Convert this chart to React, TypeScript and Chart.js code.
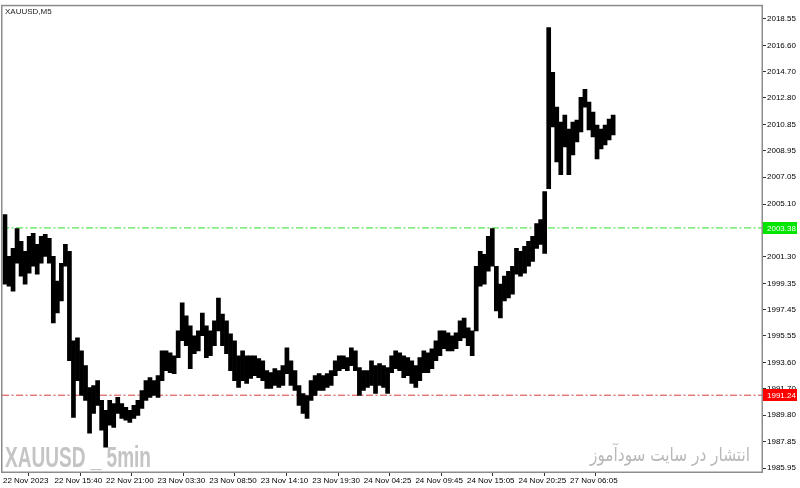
import React, { useEffect, useRef } from 'react';
import { Chart, registerables } from 'chart.js';

Chart.register(...registerables);

const symbolTitle = 'XAUUSD,M5';
const watermarkLeft = 'XAUUSD _ 5min';
const watermarkRight = 'انتشار در سایت سودآموز';

// each column = 5 five-minute bars
const barsPerColumn = 5;

const highs = [
  2004.34, 2001.31, 2001.89, 2003.33, 2002.40, 2001.67, 2002.76, 2002.97, 2002.18, 2002.76,
  2002.90, 2002.61, 2001.31, 1999.51, 2000.81, 2002.18, 2001.67, 1995.19, 1995.40, 1994.46,
  1993.38, 1991.80, 1991.94, 1992.30, 1990.86, 1990.14, 1990.86, 1990.64, 1991.08, 1990.64,
  1990.36, 1990.14, 1990.50, 1990.86, 1991.58, 1992.30, 1992.52, 1992.30, 1992.66, 1994.46,
  1994.46, 1994.32, 1994.10, 1995.91, 1997.93, 1996.99, 1996.27, 1995.55, 1995.91, 1997.20,
  1996.27, 1995.91, 1996.63, 1998.29, 1997.13, 1996.63, 1995.69, 1995.19, 1994.10, 1994.46,
  1994.10, 1994.10, 1994.10, 1993.89, 1993.74, 1993.02, 1992.88, 1993.17, 1993.02, 1993.38,
  1994.68, 1993.74, 1993.02, 1991.94, 1991.36, 1991.22, 1992.30, 1992.66, 1992.81, 1992.66,
  1992.81, 1993.02, 1993.74, 1994.10, 1994.10, 1993.96, 1994.68, 1994.46, 1993.24, 1993.02,
  1993.02, 1993.74, 1993.38, 1993.53, 1993.38, 1993.24, 1994.10, 1994.46, 1994.32, 1994.10,
  1993.96, 1993.74, 1993.38, 1993.96, 1994.46, 1994.32, 1994.61, 1995.19, 1995.91, 1995.91,
  1995.76, 1995.55, 1995.76, 1996.63, 1996.84, 1996.12, 1995.91, 2000.59, 2001.67, 2001.46,
  2002.76, 2003.33, 2000.59, 1999.30, 1999.87, 2000.23, 2000.59, 2001.89, 2001.67, 2002.04,
  2002.40, 2002.76, 2003.69, 2003.98, 2006.00, 2017.90, 2014.65, 2012.13, 2011.05, 2011.55,
  2010.54, 2011.05, 2011.19, 2012.85, 2013.43, 2012.49, 2011.77, 2010.83, 2010.54, 2010.83,
  2011.26, 2011.55,
];

const lows = [
  1999.30, 1999.15, 1998.79, 2000.81, 1999.87, 1999.30, 2000.09, 2000.59, 2000.02, 2000.81,
  2001.31, 2000.81, 1996.48, 1997.20, 1998.07, 2000.59, 1993.74, 1989.63, 1992.30, 1991.22,
  1990.86, 1988.48, 1989.92, 1990.50, 1988.70, 1987.47, 1989.06, 1988.91, 1989.92, 1989.56,
  1989.42, 1989.27, 1989.56, 1989.78, 1990.28, 1990.86, 1991.08, 1991.22, 1991.08, 1992.30,
  1993.02, 1992.88, 1992.81, 1993.96, 1995.19, 1994.83, 1993.17, 1994.25, 1994.46, 1995.55,
  1993.96, 1994.10, 1994.83, 1995.91, 1994.83, 1994.25, 1993.02, 1992.30, 1991.80, 1992.30,
  1992.09, 1992.45, 1992.66, 1992.52, 1992.30, 1991.73, 1991.73, 1991.94, 1991.80, 1991.94,
  1992.81, 1991.94, 1991.58, 1990.50, 1989.92, 1989.56, 1990.86, 1991.22, 1991.58, 1991.58,
  1991.80, 1991.94, 1992.66, 1993.02, 1993.17, 1993.02, 1993.38, 1993.02, 1991.22, 1991.58,
  1991.80, 1991.94, 1991.36, 1991.94, 1991.80, 1991.36, 1992.88, 1993.17, 1993.02, 1992.52,
  1992.66, 1992.09, 1991.80, 1992.30, 1992.88, 1992.88, 1993.17, 1993.74, 1994.10, 1994.61,
  1994.46, 1994.46, 1994.61, 1995.19, 1995.40, 1994.83, 1994.10, 1995.91, 1999.15, 1999.30,
  2000.23, 2000.59, 1997.35, 1996.84, 1998.07, 1998.29, 1998.57, 2000.02, 1999.87, 2000.09,
  2000.59, 2000.95, 2001.89, 2002.18, 2001.53, 2006.22, 2010.69, 2008.16, 2007.23, 2009.25,
  2007.23, 2008.67, 2009.61, 2010.33, 2012.13, 2010.47, 2009.97, 2008.38, 2009.10, 2009.39,
  2009.75, 2010.11,
];

// time axis labels, one every 64 five-minute bars
const timeTickLabels = [
  '22 Nov 2023', '22 Nov 15:40', '22 Nov 21:00', '23 Nov 03:30', '23 Nov 08:50', '23 Nov 14:10',
  '23 Nov 19:30', '24 Nov 04:25', '24 Nov 09:45', '24 Nov 15:05', '24 Nov 20:25', '27 Nov 06:05',
];
const timeTickBars = [0, 64, 128, 192, 256, 320, 384, 448, 512, 576, 640, 704];

const priceTicks = [
  2018.55, 2016.6, 2014.7, 2012.8, 2010.85, 2008.95, 2007.05, 2005.1, 2003.2,
  2001.3, 1999.35, 1997.45, 1995.55, 1993.6, 1991.7, 1989.8, 1987.85, 1985.95,
];

const greenLevel = 2003.38;
const redLevel = 1991.24;

const priceMin = 1985.67;
const priceMax = 2019.48;
const barMin = -1.2;
const barMax = 942.3;

const AXIS_FONT = { family: '"Liberation Sans", Arial, sans-serif', size: 8 };

const decorPlugin = {
  id: 'decor',
  beforeDatasetsDraw(chart: any) {
    const { ctx, chartArea } = chart;
    ctx.save();
    ctx.fillStyle = '#c4c4c4';
    ctx.font = 'bold 30px "Liberation Sans Narrow", "Liberation Sans", sans-serif';
    ctx.textBaseline = 'alphabetic';
    ctx.textAlign = 'left';
    const w = ctx.measureText(watermarkLeft).width;
    ctx.translate(chartArea.left + 3, chartArea.bottom - 5);
    ctx.scale(146 / w, 1);
    ctx.fillText(watermarkLeft, 0, 0);
    ctx.restore();

    ctx.save();
    ctx.fillStyle = '#b8b8b8';
    ctx.font = '19px "DejaVu Sans", sans-serif';
    ctx.textBaseline = 'alphabetic';
    ctx.textAlign = 'right';
    const w2 = ctx.measureText(watermarkRight).width;
    ctx.translate(750, chartArea.bottom - 11);
    ctx.scale(160 / w2, 1);
    ctx.fillText(watermarkRight, 0, 0);
    ctx.restore();
  },
  afterDraw(chart: any) {
    const { ctx, chartArea, scales } = chart;
    ctx.save();
    // frame
    ctx.strokeStyle = '#8c8c8c';
    ctx.lineWidth = 1.5;
    ctx.strokeRect(chartArea.left - 0.25, chartArea.top - 0.25, chartArea.right - chartArea.left + 0.5, chartArea.bottom - chartArea.top + 0.5);

    // title
    ctx.fillStyle = '#222';
    ctx.font = '8px "Liberation Sans", Arial, sans-serif';
    ctx.textBaseline = 'middle';
    ctx.textAlign = 'left';
    ctx.fillText(symbolTitle, chartArea.left + 3, chartArea.top + 6);

    // level boxes
    const boxes = [
      { v: greenLevel, bg: '#00e600' },
      { v: redLevel, bg: '#ff0000' },
    ];
    ctx.font = '8px "Liberation Sans", Arial, sans-serif';
    for (const b of boxes) {
      const y = scales.y.getPixelForValue(b.v);
      ctx.fillStyle = b.bg;
      ctx.fillRect(chartArea.right + 1, Math.round(y) - 6, 34, 12);
      ctx.fillStyle = '#ffffff';
      ctx.textAlign = 'left';
      ctx.fillText(b.v.toFixed(2), chartArea.right + 5, Math.round(y) + 0.5);
    }
    ctx.restore();
  },
};

export default function App() {
  const canvasRef = useRef<HTMLCanvasElement | null>(null);

  useEffect(() => {
    document.body.style.margin = '0';
    document.body.style.background = '#ffffff';
    const canvas = canvasRef.current;
    if (!canvas) return;

    const barData = highs.map((h, i) => ({
      x: i * barsPerColumn + barsPerColumn / 2,
      y: [lows[i], h],
    }));

    const chart = new Chart(canvas, {
      type: 'bar',
      data: {
        datasets: [
          {
            type: 'bar',
            label: 'XAUUSD',
            data: barData as any,
            backgroundColor: '#000000',
            borderWidth: 0,
            barPercentage: 1,
            categoryPercentage: 1,
            grouped: false,
          } as any,
          {
            type: 'line',
            label: 'level1',
            data: [
              { x: barMin, y: greenLevel },
              { x: barMax, y: greenLevel },
            ],
            borderColor: '#55e855',
            borderWidth: 1.2,
            borderDash: [7, 2.5, 2, 2.5],
            pointRadius: 0,
          } as any,
          {
            type: 'line',
            label: 'level2',
            data: [
              { x: barMin, y: redLevel },
              { x: barMax, y: redLevel },
            ],
            borderColor: '#d83a3a',
            borderWidth: 1,
            borderDash: [7, 2.5, 2, 2.5],
            pointRadius: 0,
          } as any,
        ],
      },
      options: {
        responsive: false,
        animation: false,
        devicePixelRatio: 1,
        layout: { padding: { left: 2, top: 3, right: 0, bottom: 0 }, autoPadding: false } as any,
        plugins: {
          legend: { display: false },
          tooltip: { enabled: false },
        },
        scales: {
          x: {
            type: 'linear',
            min: barMin,
            max: barMax,
            offset: false,
            afterBuildTicks: (scale: any) => {
              scale.ticks = timeTickBars.map((v) => ({ value: v }));
            },
            afterFit: (scale: any) => {
              scale.height = 16;
            },
            grid: {
              drawOnChartArea: false,
              drawTicks: true,
              tickLength: 4,
              tickColor: '#333',
            },
            border: { display: false },
            ticks: {
              autoSkip: false,
              maxRotation: 0,
              minRotation: 0,
              align: 'start',
              padding: 0,
              color: '#000',
              font: AXIS_FONT,
              callback: (_v: any, i: number) => timeTickLabels[i],
            },
          } as any,
          y: {
            type: 'linear',
            position: 'right',
            min: priceMin,
            max: priceMax,
            afterBuildTicks: (scale: any) => {
              scale.ticks = priceTicks.map((v) => ({ value: v }));
            },
            afterFit: (scale: any) => {
              scale.width = 38;
            },
            grid: {
              drawOnChartArea: false,
              drawTicks: true,
              tickLength: 4,
              tickColor: '#333',
            },
            border: { display: false },
            ticks: {
              autoSkip: false,
              padding: 1,
              color: '#000',
              font: AXIS_FONT,
              callback: (v: any) => Number(v).toFixed(2),
            },
          } as any,
        },
      },
      plugins: [decorPlugin],
    });

    return () => chart.destroy();
  }, []);

  return (
    <div style={{ width: 800, height: 488, background: '#fff' }}>
      <canvas ref={canvasRef} width={800} height={488} style={{ display: 'block' }} />
    </div>
  );
}
